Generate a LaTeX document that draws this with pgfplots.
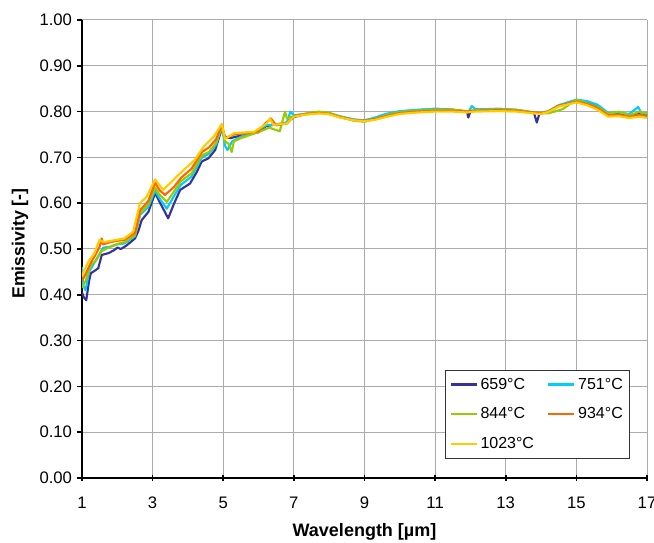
\documentclass[border=0pt]{standalone}
\usepackage{fontspec}
\setmainfont{Liberation Sans}
\usepackage{pgfplots}
\pgfplotsset{compat=1.18}
\definecolor{cA}{HTML}{333399}
\definecolor{cB}{HTML}{00CCFF}
\definecolor{cC}{HTML}{99CC00}
\definecolor{cD}{HTML}{FF6600}
\definecolor{cE}{HTML}{FFCC00}
\begin{document}
\begin{tikzpicture}
\useasboundingbox (-61.5pt,-48.75pt) rectangle (429pt,358.5pt);
\begin{axis}[
  at={(0,0)}, anchor=south west,
  scale only axis,
  width=423.75pt, height=343.5pt,
  xmin=1, xmax=17, ymin=0, ymax=1,
  xtick={1,3,5,7,9,11,13,15,17},
  ytick={0,0.1,0.2,0.3,0.4,0.5,0.6,0.7,0.8,0.9,1.0},
  axis x line=bottom, axis y line=left,
  axis line style={-, line width=1.5pt, black},
  tick align=outside,
  major tick length=4pt,
  tick style={line width=1.2pt, black},
  x tick style={yshift=2pt},
  grid=major,
  major grid style={line width=0.75pt, black!33},
  /pgf/number format/assume math mode=true,
  yticklabel style={/pgf/number format/.cd, fixed, fixed zerofill, precision=2},
  xticklabel style={yshift=-6.5pt},
  ticklabel style={font=\fontsize{12.5}{15}\selectfont},
  xlabel={Wavelength [µm]},
  ylabel={Emissivity [-]},
  every axis x label/.style={at={(axis description cs:0.5,-0.118)}, anchor=center, font=\fontsize{13.5}{16}\selectfont\bfseries},
  every axis y label/.style={at={(axis description cs:-0.1097,0.512)}, anchor=center, rotate=90, font=\fontsize{13.3}{16}\selectfont\bfseries},
  legend columns=2,
  legend cell align=left,
  legend style={at={(1,0)}, anchor=south east, xshift=-12.75pt, yshift=14.25pt,
    draw=black!80, line width=0.75pt, font=\fontsize{12}{14}\selectfont,
    inner xsep=3pt, inner ysep=3.8pt, row sep=8.5pt,
    /tikz/every even column/.append style={column sep=8pt}},
  legend image code/.code={\draw[#1, line width=1.6pt] (0pt,0pt) -- (19.5pt,0pt);},
  every axis plot/.append style={line width=1.6pt, line join=round},
]
\addplot[cA] coordinates {
(1.00,0.405)(1.05,0.395)(1.12,0.388)(1.20,0.430)(1.25,0.447)(1.35,0.452)(1.46,0.458)(1.56,0.487)(1.75,0.491)(1.90,0.497)(2.00,0.503)(2.10,0.500)(2.25,0.507)(2.50,0.523)(2.60,0.540)(2.69,0.563)(2.88,0.581)(3.07,0.622)(3.25,0.595)(3.44,0.567)(3.60,0.598)(3.78,0.629)(4.06,0.643)(4.25,0.668)(4.39,0.691)(4.58,0.698)(4.77,0.716)(4.96,0.763)(5.05,0.745)(5.20,0.742)(5.50,0.748)(5.80,0.752)(6.00,0.755)(6.20,0.768)(6.50,0.772)(6.80,0.776)(6.95,0.785)
(7.0,0.788)(7.3,0.794)(7.7,0.798)(8.0,0.796)(8.3,0.788)(8.7,0.781)(9.0,0.779)(9.3,0.784)(9.6,0.793)(10.0,0.800)(10.5,0.803)(11.0,0.806)(11.5,0.804)(11.9,0.800)(11.94,0.787)(12.0,0.800)(12.3,0.804)(12.8,0.806)(13.3,0.803)(13.8,0.797)(13.88,0.776)(13.95,0.795)(14.2,0.799)(14.5,0.812)(15.0,0.824)(15.3,0.820)(15.6,0.812)(15.9,0.795)(16.2,0.796)(16.5,0.791)(16.8,0.796)(17.0,0.792)
};
\addlegendentry{659°C}
\addplot[cB] coordinates {
(1.00,0.461)(1.03,0.420)(1.10,0.410)(1.20,0.450)(1.35,0.470)(1.50,0.490)(1.60,0.503)(1.80,0.505)(2.00,0.510)(2.20,0.512)(2.50,0.528)(2.65,0.575)(2.88,0.592)(3.07,0.628)(3.20,0.610)(3.40,0.588)(3.60,0.615)(3.80,0.640)(4.10,0.658)(4.40,0.700)(4.60,0.708)(4.80,0.728)(4.96,0.768)(5.05,0.725)(5.12,0.716)(5.25,0.735)(5.50,0.745)(5.80,0.753)(6.00,0.758)(6.20,0.770)(6.50,0.772)(6.80,0.775)(6.90,0.800)
(7.0,0.792)(7.3,0.795)(7.7,0.799)(8.0,0.797)(8.3,0.790)(8.7,0.783)(9.0,0.781)(9.3,0.787)(9.6,0.795)(10.0,0.801)(10.5,0.804)(11.0,0.806)(11.5,0.804)(11.95,0.800)(12.04,0.812)(12.15,0.805)(12.8,0.806)(13.3,0.804)(13.8,0.798)(14.0,0.797)(14.2,0.801)(14.5,0.814)(15.0,0.826)(15.3,0.823)(15.6,0.815)(15.9,0.797)(16.2,0.798)(16.5,0.795)(16.75,0.810)(16.85,0.795)(17.0,0.797)
};
\addlegendentry{751°C}
\addplot[cC] coordinates {
(1.00,0.415)(1.10,0.430)(1.25,0.465)(1.40,0.475)(1.55,0.495)(1.80,0.505)(2.00,0.511)(2.20,0.515)(2.50,0.530)(2.65,0.578)(2.88,0.598)(3.07,0.634)(3.20,0.618)(3.40,0.603)(3.60,0.625)(3.80,0.648)(4.10,0.665)(4.40,0.705)(4.60,0.712)(4.80,0.732)(4.96,0.768)(5.05,0.735)(5.15,0.730)(5.24,0.712)(5.30,0.735)(5.50,0.742)(5.80,0.750)(6.00,0.755)(6.30,0.765)(6.60,0.757)(6.75,0.800)(6.80,0.785)
(7.0,0.790)(7.3,0.795)(7.7,0.800)(8.0,0.797)(8.3,0.789)(8.7,0.780)(9.0,0.778)(9.3,0.784)(9.6,0.792)(10.0,0.799)(10.5,0.802)(11.0,0.804)(11.5,0.804)(11.9,0.801)(12.1,0.803)(12.8,0.805)(13.3,0.804)(13.8,0.798)(14.0,0.797)(14.2,0.796)(14.6,0.805)(15.0,0.826)(15.3,0.818)(15.6,0.810)(15.9,0.795)(16.2,0.800)(16.5,0.792)(16.8,0.800)(17.0,0.795)
};
\addlegendentry{844°C}
\addplot[cD] coordinates {
(1.00,0.430)(1.10,0.445)(1.25,0.470)(1.40,0.490)(1.50,0.505)(1.56,0.523)(1.60,0.510)(1.80,0.515)(2.00,0.518)(2.20,0.520)(2.50,0.535)(2.65,0.585)(2.88,0.605)(3.07,0.645)(3.20,0.628)(3.35,0.618)(3.60,0.635)(3.80,0.655)(4.10,0.675)(4.40,0.712)(4.60,0.722)(4.80,0.740)(4.96,0.772)(5.05,0.742)(5.30,0.750)(5.60,0.752)(6.00,0.757)(6.20,0.775)(6.35,0.785)(6.50,0.770)(6.80,0.774)
(7.0,0.790)(7.3,0.794)(7.7,0.797)(8.0,0.795)(8.3,0.788)(8.7,0.782)(9.0,0.780)(9.3,0.784)(9.6,0.790)(10.0,0.797)(10.5,0.800)(11.0,0.802)(11.5,0.802)(11.9,0.800)(12.1,0.802)(12.8,0.803)(13.3,0.802)(13.8,0.798)(14.0,0.797)(14.2,0.800)(14.5,0.813)(15.0,0.822)(15.3,0.817)(15.6,0.808)(15.9,0.792)(16.2,0.793)(16.5,0.789)(16.8,0.793)(17.0,0.789)
};
\addlegendentry{934°C}
\addplot[cE] coordinates {
(1.00,0.440)(1.04,0.450)(1.20,0.475)(1.35,0.490)(1.42,0.505)(1.50,0.520)(1.60,0.515)(1.98,0.520)(2.20,0.523)(2.45,0.538)(2.64,0.600)(2.83,0.614)(3.07,0.652)(3.30,0.629)(3.87,0.672)(4.20,0.695)(4.44,0.723)(4.73,0.745)(4.96,0.773)(5.05,0.740)(5.31,0.753)(5.88,0.756)(6.23,0.774)(6.32,0.785)(6.42,0.771)(6.80,0.774)
(7.0,0.789)(7.3,0.793)(7.7,0.796)(8.0,0.794)(8.3,0.787)(8.7,0.781)(9.0,0.779)(9.3,0.782)(9.6,0.788)(10.0,0.795)(10.5,0.798)(11.0,0.800)(11.5,0.800)(11.9,0.798)(12.1,0.800)(12.8,0.801)(13.3,0.800)(13.8,0.796)(14.0,0.795)(14.2,0.799)(14.5,0.811)(15.0,0.820)(15.3,0.814)(15.6,0.804)(15.9,0.789)(16.2,0.790)(16.5,0.786)(16.8,0.789)(17.0,0.786)
};
\addlegendentry{1023°C}
\end{axis}
\end{tikzpicture}
\end{document}
